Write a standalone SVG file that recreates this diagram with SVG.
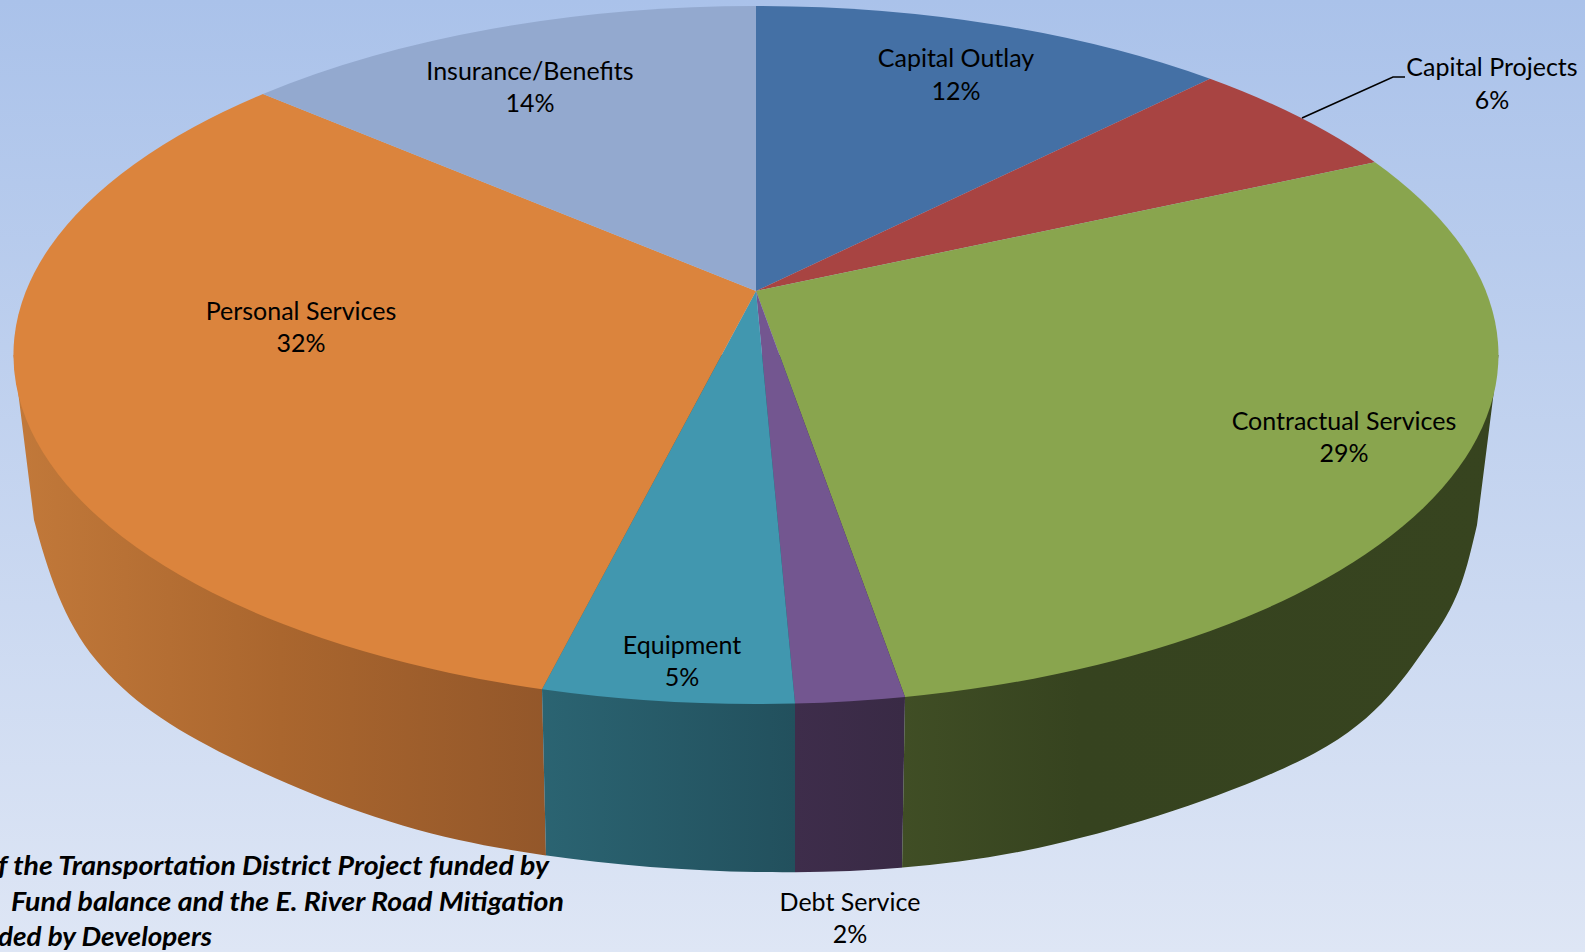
<svg xmlns="http://www.w3.org/2000/svg" width="1585" height="952" viewBox="0 0 1585 952">
  <defs>
    <linearGradient id="bg" x1="0" y1="0" x2="0" y2="1">
      <stop offset="0" stop-color="#AAC2EA"/>
      <stop offset="1" stop-color="#DEE6F5"/>
    </linearGradient>
    <linearGradient id="gPers" gradientUnits="userSpaceOnUse" x1="13" y1="0" x2="548" y2="0">
      <stop offset="0" stop-color="#C2793A"/>
      <stop offset="0.5" stop-color="#AA662E"/>
      <stop offset="1" stop-color="#93572A"/>
    </linearGradient>
    <linearGradient id="gEquip" gradientUnits="userSpaceOnUse" x1="540" y1="0" x2="795" y2="0">
      <stop offset="0" stop-color="#2B6472"/>
      <stop offset="1" stop-color="#22505D"/>
    </linearGradient>
    <linearGradient id="gDebt" gradientUnits="userSpaceOnUse" x1="795" y1="0" x2="905" y2="0">
      <stop offset="0" stop-color="#3E2D4B"/>
      <stop offset="1" stop-color="#392A45"/>
    </linearGradient>
    <linearGradient id="gContr" gradientUnits="userSpaceOnUse" x1="900" y1="0" x2="1500" y2="0">
      <stop offset="0" stop-color="#404E25"/>
      <stop offset="0.3" stop-color="#36431F"/>
      <stop offset="1" stop-color="#37441F"/>
    </linearGradient>
    <path id="side" d="M 13.5 355 L 34 520 C 47.75 570.8 63.3 620.5 96 660 C 128.7 699.5 169.5 727 230 757 C 290.5 787 371.3 820.8 459 840 C 546.7 859.2 659.5 870.7 756 872 C 852.5 873.3 944.8 867.8 1038 848 C 1131.2 828.2 1249.2 788.2 1315 753 C 1380.8 717.8 1406 675 1433 637 C 1460 599 1466.1 571.5 1477 525 L 1498.5 355 Z"/>
    <clipPath id="cPers"><polygon points="-10,300 532.7,300 548.3,952 -10,952"/></clipPath>
    <clipPath id="cEquip"><polygon points="532.7,300 795,300 795,952 548.3,952"/></clipPath>
    <clipPath id="cDebt"><polygon points="795,300 911.9,300 900.6,952 795,952"/></clipPath>
    <clipPath id="cContr"><polygon points="911.9,300 1600,300 1600,952 900.6,952"/></clipPath>
  </defs>
  <style>
    .lbl { font-family: Lato, "Liberation Sans", sans-serif; font-size: 25px; fill: #000; text-anchor: middle; }
    .note { font-family: Lato, "Liberation Sans", sans-serif; font-size: 26px; font-weight: bold; font-style: italic; fill: #000; }
    .lead { fill: none; stroke: #000; stroke-width: 1.6; }
  </style>

  <rect x="0" y="0" width="1585" height="952" fill="url(#bg)"/>

  <g id="sides">
    <use href="#side" fill="url(#gPers)" clip-path="url(#cPers)"/>
    <use href="#side" fill="url(#gEquip)" clip-path="url(#cEquip)"/>
    <use href="#side" fill="url(#gDebt)" clip-path="url(#cDebt)"/>
    <use href="#side" fill="url(#gContr)" clip-path="url(#cContr)"/>
  </g>

  <g id="capital-outlay">
    <path d="M 756 291 L 756 6 A 742.5 349 0 0 1 1210 78.8 Z" fill="#4470A5"/>
    <text class="lbl" x="956" y="67">Capital Outlay</text>
    <text class="lbl" x="956" y="100">12%</text>
  </g>
  <g id="capital-projects">
    <path d="M 756 291 L 1210 78.8 A 742.5 349 0 0 1 1375 162.3 Z" fill="#A84442"/>
    <text class="lbl" x="1492" y="76">Capital Projects</text>
    <text class="lbl" x="1492" y="109">6%</text>
  </g>
  <g id="contractual-services">
    <path d="M 756 291 L 1375 162.3 A 742.5 349 0 0 1 905 696.9 Z" fill="#89A54E"/>
    <text class="lbl" x="1344" y="430">Contractual Services</text>
    <text class="lbl" x="1344" y="462">29%</text>
  </g>
  <g id="debt-service">
    <path d="M 756 291 L 905 696.9 A 742.5 349 0 0 1 795 703.5 Z" fill="#735690"/>
    <text class="lbl" x="850" y="911">Debt Service</text>
    <text class="lbl" x="850" y="943">2%</text>
  </g>
  <g id="equipment">
    <path d="M 756 291 L 795 703.5 A 742.5 349 0 0 1 542 689.2 Z" fill="#4197AF"/>
    <text class="lbl" x="682" y="654">Equipment</text>
    <text class="lbl" x="682" y="686">5%</text>
  </g>
  <g id="personal-services">
    <path d="M 756 291 L 542 689.2 A 742.5 349 0 0 1 263 94 Z" fill="#DB843D"/>
    <text class="lbl" x="301" y="320">Personal Services</text>
    <text class="lbl" x="301" y="352">32%</text>
  </g>
  <g id="insurance-benefits">
    <path d="M 756 291 L 263 94 A 742.5 349 0 0 1 756 6 Z" fill="#93A9CF"/>
    <text class="lbl" x="530" y="80">Insurance/Benefits</text>
    <text class="lbl" x="530" y="112">14%</text>
  </g>

  <g id="connectors">
    <polyline class="lead" points="1302,118 1393,77 1405,77"/>
  </g>

  <g id="note">
    <text class="note" x="-2" y="875" textLength="551" lengthAdjust="spacingAndGlyphs">f the Transportation District Project funded by</text>
    <text class="note" x="11" y="911" textLength="553" lengthAdjust="spacingAndGlyphs">Fund balance and the E. River Road Mitigation</text>
    <text class="note" x="-2" y="946" textLength="214" lengthAdjust="spacingAndGlyphs">ded by Developers</text>
  </g>
</svg>
